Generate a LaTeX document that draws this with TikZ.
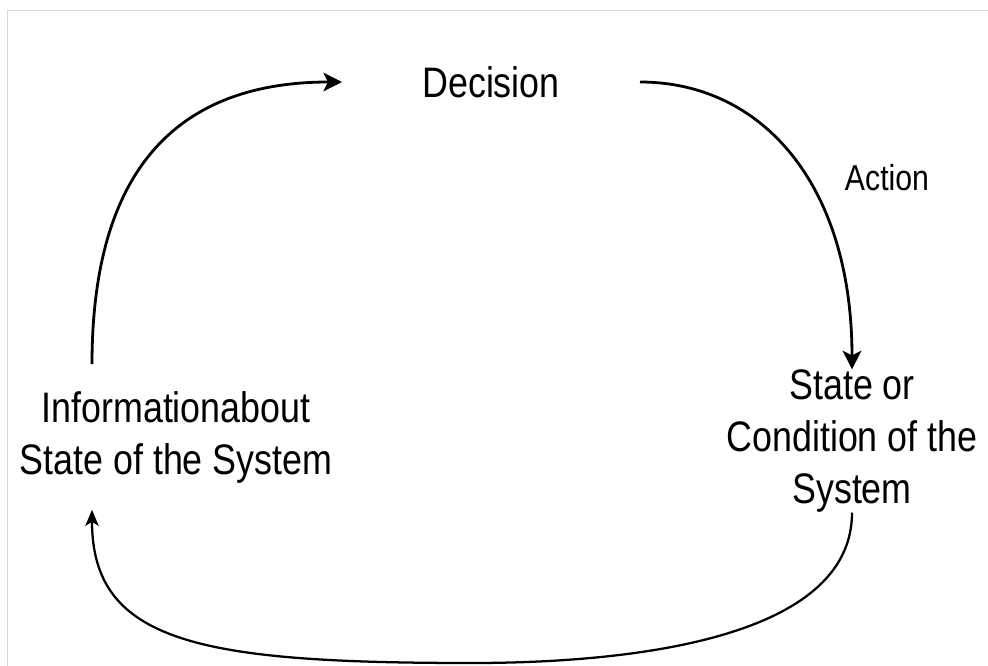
\documentclass[tikz,border=0pt]{standalone}
\usepackage{fontspec}
\setmainfont[FakeStretch=0.84]{Liberation Sans}
\usetikzlibrary{arrows.meta}

\begin{document}
\begin{tikzpicture}[x=0.75pt,y=-0.75pt,
    every node/.style={font=\fontsize{32}{39}\selectfont,align=center},
    flow/.style={line width=2.1pt,-{Stealth[length=14pt,width=14pt,inset=3.5pt]}},
    feedback/.style={line width=1.7pt,-{Stealth[length=12pt,width=10pt,inset=3pt]}}]
    \useasboundingbox (0,0) rectangle (988,666);
    \draw[black!15,line width=0.75pt] (7,666) -- (7,11) -- (988,11);

    \node[inner xsep=60pt,inner ysep=0pt] (decision) at (491,82) {Decision};
    \node[font=\fontsize{27}{33}\selectfont] (action) at (887,178) {Action};
    \node[inner sep=0pt] (state) at (852,441) {State or\\Condition of the\\System};
    \node[inner ysep=20pt] (info) at (176,437) {Informationabout\\State of the System};

    \coordinate (infoout) at ([xshift=-63pt]info.north);
    \coordinate (infoin) at ([xshift=-63pt]info.south);
    \coordinate (loopbottom) at (472,663);

    \draw[flow] (infoout) 
    .. controls +(0,-200) and +(-160,0) .. (decision.west);

    \draw[flow] (decision.east) 
    .. controls +(122,0) and +(0,-185) .. (state.north);

    \draw[feedback] (state.south) 
    .. controls +(0,128) and +(153,0) .. (loopbottom) 
    .. controls +(-272,0) and +(0,133) .. (infoin);
\end{tikzpicture}
\end{document}
